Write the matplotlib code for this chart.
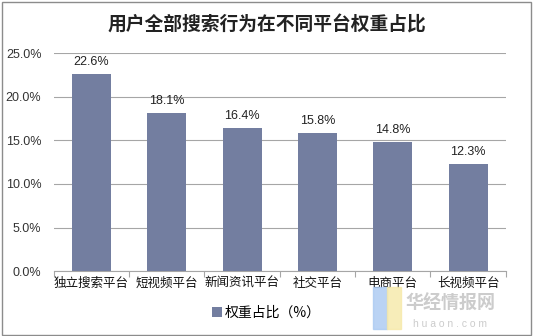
import numpy as np
import matplotlib.pyplot as plt
from matplotlib.patches import Rectangle

plt.rcParams['font.family'] = ['Noto Sans CJK SC', 'DejaVu Sans']

platforms = ['独立搜索平台', '短视频平台', '新闻资讯平台', '社交平台', '电商平台', '长视频平台']
weights = [22.6, 18.1, 16.4, 15.8, 14.8, 12.3]
yticks = [0, 5, 10, 15, 20, 25]

bar_color = '#737ea0'
grid_color = '#a6a6a6'
num_font = ['Liberation Sans', 'DejaVu Sans']

fig = plt.figure(figsize=(5.33, 3.36), dpi=100)
ax = fig.add_axes([0.101, 0.193, 0.848, 0.649])

x = np.arange(len(platforms))
ax.bar(x, weights, width=0.52, color=bar_color, zorder=3, label='权重占比（%）')
for xi, v in zip(x, weights):
    ax.text(xi, v + 0.7, f'{v:.1f}%', ha='center', va='bottom', fontsize=9,
            color='#222222', family=num_font)

ax.set_xlim(-0.5, len(platforms) - 0.5)
ax.set_ylim(0, 25)
ax.set_yticks(yticks)
ax.set_yticklabels([f'{t:.1f}%' for t in yticks], family=num_font, fontsize=9, color='#333333')
ax.yaxis.grid(True, color=grid_color, linewidth=0.8, zorder=0)
ax.tick_params(axis='y', length=0, pad=9)

# category boundary ticks on the baseline
ax.set_xticks(np.arange(-0.5, len(platforms)), minor=False)
ax.set_xticklabels([])
ax.tick_params(axis='x', length=4, color=grid_color, width=0.8, direction='out')
ax.set_xticks(x, minor=True)
ax.set_xticklabels(platforms, minor=True, fontsize=9, color='#111111')
ax.tick_params(axis='x', which='minor', length=0, pad=4)

for side in ['top', 'right', 'left']:
    ax.spines[side].set_visible(False)
ax.spines['bottom'].set_color(grid_color)
ax.spines['bottom'].set_linewidth(0.8)

fig.text(0.5, 0.925, '用户全部搜索行为在不同平台权重占比', ha='center', va='center',
         fontsize=13.5, fontweight='bold', color='#222222')

fig.legend(loc='center', bbox_to_anchor=(0.5, 0.068), frameon=False, fontsize=10,
           handlelength=0.7, handleheight=0.7, handletextpad=0.2)

# faint site mark in the lower right corner
fig.patches.append(Rectangle((0.70, 0.02), 0.026, 0.125, transform=fig.transFigure,
                             color='#a9c9f2', alpha=0.8, zorder=0))
fig.patches.append(Rectangle((0.726, 0.02), 0.026, 0.125, transform=fig.transFigure,
                             color='#f6e9a8', alpha=0.8, zorder=0))
fig.text(0.76, 0.098, '华经情报网', fontsize=13, fontweight='bold', color='#cccccc', va='center')
fig.text(0.775, 0.035, 'h u a o n . c o m', fontsize=7.5, color='#cccccc', va='center',
         family=num_font)

# outer border
fig.patches.append(Rectangle((0.003, 0.004), 0.993, 0.991, transform=fig.transFigure,
                             fill=False, edgecolor='#8c8c8c', linewidth=1.0))

fig.savefig('out.png', dpi=100)
